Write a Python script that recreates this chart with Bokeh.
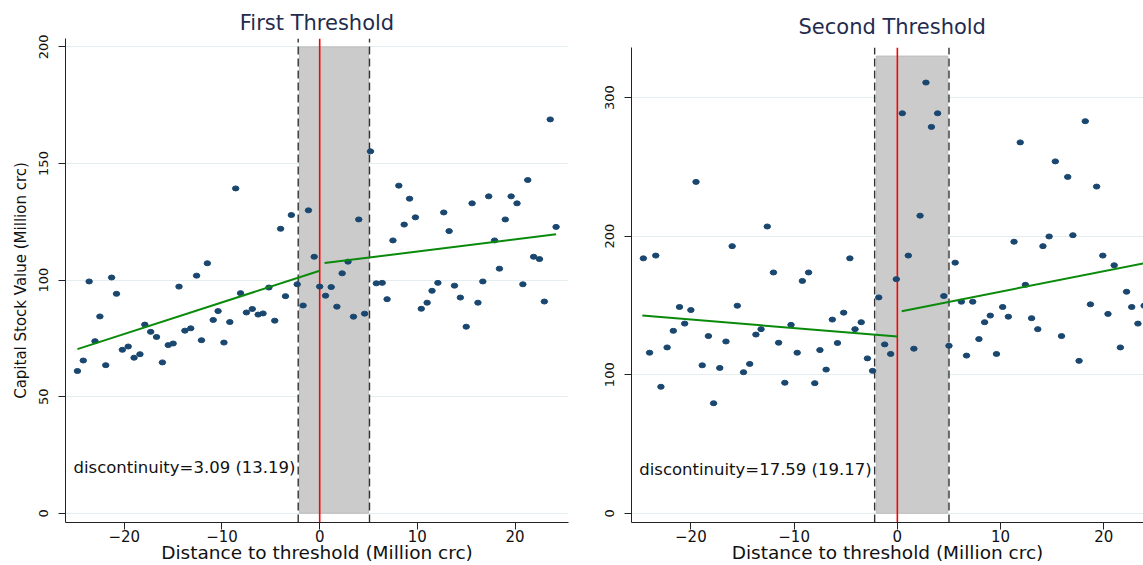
from bokeh.plotting import figure
from bokeh.layouts import row
from bokeh.models import FixedTicker, Range1d, Label
from bokeh.embed import file_html
from bokeh.resources import INLINE

# ---------------- data: first threshold ----------------
x1 = [-24.8, -24.2, -23.6, -23.0, -22.5, -21.9, -21.3, -20.8, -20.2, -19.6,
      -19.0, -18.4, -17.9, -17.3, -16.7, -16.1, -15.5, -15.0, -14.4, -13.8,
      -13.2, -12.6, -12.1, -11.5, -10.9, -10.4, -9.8, -9.2, -8.6, -8.1,
      -7.5, -6.9, -6.3, -5.8, -5.2, -4.6, -4.0, -3.5, -2.9, -2.3,
      -1.7, -1.15, -0.56, 0.0, 0.6, 1.18, 1.76, 2.3, 2.9, 3.46,
      4.0, 4.6, 5.2, 5.8, 6.4, 6.9, 7.5, 8.1, 8.65, 9.2,
      9.8, 10.4, 11.0, 11.5, 12.1, 12.7, 13.25, 13.8, 14.4, 15.0,
      15.6, 16.2, 16.7, 17.3, 17.9, 18.4, 19.0, 19.6, 20.2, 20.8,
      21.3, 21.9, 22.5, 23.0, 23.6, 24.2]
y1 = [61.0, 65.5, 99.4, 73.8, 84.4, 63.5, 101.1, 94.1, 70.1, 71.5,
      66.7, 68.2, 80.9, 77.8, 75.6, 64.7, 72.1, 72.8, 97.2, 78.3,
      79.3, 101.9, 74.2, 107.2, 82.9, 86.7, 73.2, 82.0, 139.3, 94.4,
      86.1, 87.6, 85.2, 85.7, 96.8, 82.6, 122.0, 93.1, 127.9, 98.2,
      89.1, 129.9, 110.0, 97.2, 93.3, 97.0, 88.6, 102.9, 107.9, 84.3,
      126.0, 85.6, 155.2, 98.6, 98.8, 91.8, 117.0, 140.5, 123.8, 134.9,
      126.9, 87.7, 90.3, 95.4, 98.8, 129.0, 121.0, 97.6, 92.5, 80.0,
      132.9, 90.3, 99.4, 135.9, 117.0, 104.9, 126.0, 135.9, 132.9, 98.2,
      142.9, 110.0, 109.0, 90.8, 168.9, 122.8]
fit1_left_x = [-24.8, 0.0]
fit1_left_y = [70.4, 104.0]
fit1_right_x = [0.5, 24.2]
fit1_right_y = [107.3, 119.6]
band1 = [-2.07, 5.0]        # shaded window
dash1 = [-2.2, 5.1]         # dashed window limits
band1_top = 200
note1 = "discontinuity=3.09 (13.19)"
yticks1 = [0, 50, 100, 150, 200]

# ---------------- data: second threshold ----------------
x2 = [-24.6, -24.0, -23.4, -22.9, -22.3, -21.7, -21.1, -20.6, -20.0, -19.5,
      -18.9, -18.3, -17.8, -17.2, -16.6, -16.0, -15.5, -14.9, -14.3, -13.7,
      -13.2, -12.6, -12.0, -11.5, -10.9, -10.3, -9.7, -9.2, -8.6, -8.0,
      -7.5, -6.9, -6.3, -5.8, -5.2, -4.6, -4.1, -3.5, -2.9, -2.4,
      -1.8, -1.23, -0.65, -0.1, 0.48, 1.06, 1.6, 2.2, 2.77, 3.3,
      3.9, 4.5, 5.0, 5.6, 6.2, 6.7, 7.3, 7.9, 8.45, 9.0,
      9.6, 10.2, 10.75, 11.3, 11.9, 12.4, 13.0, 13.6, 14.1, 14.7,
      15.3, 15.9, 16.5, 17.0, 17.6, 18.2, 18.7, 19.3, 19.9, 20.4,
      21.0, 21.6, 22.2, 22.7, 23.3, 23.9]
y2 = [184.0, 115.9, 186.0, 91.3, 119.7, 131.7, 148.9, 136.9, 146.7, 239.2,
      106.8, 127.9, 79.4, 104.9, 124.0, 192.8, 149.8, 101.8, 107.8, 129.0,
      132.9, 207.0, 173.8, 123.1, 94.2, 136.0, 115.9, 167.7, 173.8, 93.9,
      117.8, 103.7, 139.8, 122.9, 144.8, 184.0, 132.9, 137.9, 111.8, 102.8,
      155.8, 121.9, 115.0, 169.0, 288.7, 186.0, 118.8, 214.8, 310.9, 278.9,
      288.7, 156.8, 120.9, 180.9, 152.7, 113.8, 152.7, 125.7, 137.9, 142.7,
      115.0, 148.9, 141.9, 196.0, 267.7, 164.9, 140.8, 132.9, 192.8, 199.8,
      254.0, 127.9, 242.8, 200.7, 110.0, 283.0, 150.8, 235.8, 186.0, 143.9,
      179.0, 119.7, 159.9, 148.9, 136.9, 149.8]
fit2_left_x = [-24.7, 0.0]
fit2_left_y = [142.7, 127.6]
fit2_right_x = [0.42, 24.5]
fit2_right_y = [145.8, 181.4]
band2 = [-2.04, 4.88]
dash2 = [-2.2, 5.0]
band2_top = 330
note2 = "discontinuity=17.59 (19.17)"
yticks2 = [0, 100, 200, 300]

xticks = [-20, -10, 0, 10, 20]
xtick_labels = {-20: "\u221220", -10: "\u221210", 0: "0", 10: "10", 20: "20"}

FONT = "DejaVu Sans"
TITLE_COLOR = "#1f2c4e"
DOT = "#1a476f"
GREEN = "#0a8a0a"
GRID = "#e4edf0"


def make_panel(width, xr, yr, min_left, min_right, min_top, title, title_standoff,
               x, y, fl_x, fl_y, fr_x, fr_y, band, dash, band_top,
               note, note_xy, yticks, ylabel):
    p = figure(width=width, height=565, output_backend="svg", toolbar_location=None,
               x_range=Range1d(*xr), y_range=Range1d(*yr),
               min_border_left=min_left, min_border_right=min_right,
               min_border_top=min_top, min_border_bottom=40,
               background_fill_color="white", border_fill_color="white")
    p.frame_align = False
    p.outline_line_color = None
    p.title.text = title
    p.title.text_font = FONT
    p.title.text_font_size = "21px"
    p.title.text_font_style = "normal"
    p.title.text_color = TITLE_COLOR
    p.title.align = "center"
    p.title.standoff = title_standoff

    # grid
    p.xgrid.grid_line_color = None
    p.ygrid.grid_line_color = GRID
    p.ygrid.grid_line_width = 1.2

    # axes
    p.xaxis.ticker = FixedTicker(ticks=xticks)
    p.xaxis.major_label_overrides = xtick_labels
    p.yaxis.ticker = FixedTicker(ticks=yticks)
    p.ygrid.ticker = FixedTicker(ticks=yticks)
    for ax in (p.xaxis[0], p.yaxis[0]):
        ax.axis_line_color = "#222222"
        ax.major_tick_line_color = "#222222"
        ax.major_tick_out = 7
        ax.major_tick_in = 0
        ax.minor_tick_line_color = None
        ax.major_label_text_font = FONT
        ax.major_label_text_color = "#111111"
        ax.axis_label_text_font = FONT
        ax.axis_label_text_font_style = "normal"
        ax.axis_label_text_color = "#111111"
    p.xaxis.major_label_text_font_size = "15px"
    p.xaxis.major_label_standoff = 0
    p.xaxis.axis_label = "Distance to threshold (Million crc)"
    p.xaxis.axis_label_text_font_size = "18.5px"
    p.xaxis.axis_label_standoff = -3
    p.yaxis.major_label_text_font_size = "13px"
    p.yaxis.major_label_orientation = "vertical"
    p.yaxis.major_label_standoff = 10
    if ylabel:
        p.yaxis.axis_label = ylabel
        p.yaxis.axis_label_text_font_size = "15px"
        p.yaxis.axis_label_standoff = 7

    # shaded window and its limits
    p.quad(left=[band[0]], right=[band[1]], bottom=[0], top=[band_top],
           fill_color="#cbcbcb", line_color="#bcbcbc", line_width=1)
    p.segment(x0=dash, x1=dash, y0=[yr[0]] * 2, y1=[yr[1]] * 2,
              line_color="#333333", line_width=1.4, line_dash="8 4")
    p.segment(x0=[0], x1=[0], y0=[yr[0]], y1=[yr[1]], line_color="#ff0000", line_width=1.6)

    # scatter
    p.ellipse(x=x, y=y, width=6.5, height=5, width_units="screen", height_units="screen",
              fill_color=DOT, line_color=DOT)

    # fitted lines
    p.line(fl_x, fl_y, line_color=GREEN, line_width=2)
    p.line(fr_x, fr_y, line_color=GREEN, line_width=2)

    p.add_layout(Label(x=note_xy[0], y=note_xy[1], text=note, text_font=FONT,
                       text_font_size="16.5px", text_color="#111111",
                       text_baseline="middle", text_align="left"))
    return p


p1 = make_panel(590, (-26.02, 25.47), (-3.97, 203.6), 65, 22, 38, "First Threshold", 7,
                x1, y1, fit1_left_x, fit1_left_y, fit1_right_x, fit1_right_y,
                band1, dash1, band1_top, note1, (-25.2, 19.5), yticks1,
                "Capital Stock Value (Million crc)")
p2 = make_panel(553, (-25.75, 23.84), (-6.67, 336.2), 41, 0, 47, "Second Threshold", 17,
                x2, y2, fit2_left_x, fit2_left_y, fit2_right_x, fit2_right_y,
                band2, dash2, band2_top, note2, (-25.0, 31.5), yticks2, None)
p2.title.align = "left"
p2.title.offset = 167

layout = row(p1, p2)
open("out.html", "w").write(file_html(layout, INLINE))
